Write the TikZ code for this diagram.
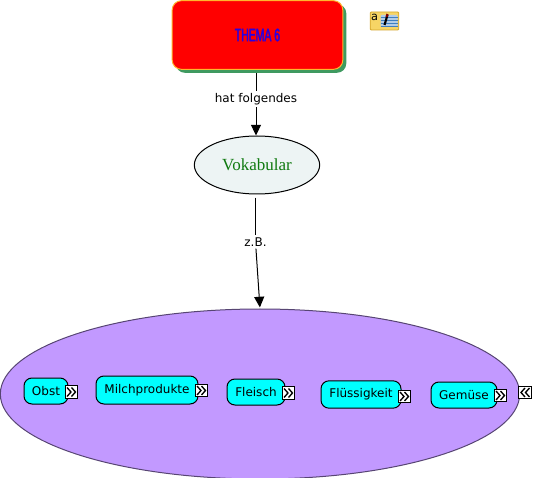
\documentclass[tikz,border=0pt]{standalone}
\usepackage{fontspec}
\setmainfont{DejaVu Sans}
\newfontfamily\serifvoka{Liberation Serif}
\newfontfamily\themafont[FakeStretch=0.58,FakeBold=2]{Liberation Sans}
\usetikzlibrary{arrows.meta,shapes.geometric,shadows}
\definecolor{themared}{HTML}{FF0000}
\definecolor{themaline}{HTML}{FFB52E}
\definecolor{themashadow}{HTML}{3F9A60}
\definecolor{themablue}{HTML}{2A00E0}
\definecolor{vokafill}{HTML}{EDF4F4}
\definecolor{vokagreen}{HTML}{107A10}
\definecolor{bigfill}{HTML}{C299FF}
\definecolor{topicfill}{HTML}{00FFFF}
\definecolor{notefill}{HTML}{F7D565}
\definecolor{noteline}{HTML}{D4A52A}
\definecolor{notelines}{HTML}{3F7FC0}
\tikzset{
	topic/.style={draw=black, line width=0.75pt, fill=topicfill, rounded corners=6pt, inner sep=0pt, font=\fontsize{9}{11}\selectfont},
	expandicon/.style={draw=black, line width=0.6pt, fill=white, minimum size=9.5pt, inner sep=0pt,
		path picture={\draw[line width=1pt] (-4.5,-4.5) -- (-0.5,0) -- (-4.5,4.5) (0,-4.5) -- (4,0) -- (0,4.5);}},
	collapseicon/.style={draw=black, line width=0.6pt, fill=white, minimum size=9.5pt, inner sep=0pt,
		path picture={\draw[line width=1pt] (4.5,-4.5) -- (0.5,0) -- (4.5,4.5) (0,-4.5) -- (-4,0) -- (0,4.5);}},
	link/.style={font=\fontsize{9}{11}\selectfont, inner sep=1.5pt},
	tip/.style={-{Triangle[length=8pt,width=7.5pt]}, line width=0.75pt}
}
\begin{document}
\begin{tikzpicture}
	[x=0.75pt, y=-0.75pt]
	\useasboundingbox (0,0) rectangle (533,478);
	\begin{scope}
		\clip (0,0) rectangle (533,478);
		\node[ellipse, draw=black!55!bigfill, line width=0.75pt, fill=bigfill, minimum width=389.5pt, minimum height=127.5pt, inner sep=0pt] (big) at (260,394) {};
	\end{scope}
	\node[draw=themaline, line width=0.75pt, fill=themared, rounded corners=7pt, minimum width=128pt, minimum height=51.5pt, inner sep=0pt,
		drop shadow={shadow xshift=2.6pt, shadow yshift=-2.6pt, opacity=1, fill=themashadow},
		text=themablue, font=\themafont\fontsize{13.5}{14}\selectfont] (thema) at (257.5,35) {THEMA 6};
	\node[draw=noteline, line width=0.6pt, fill=notefill, rounded corners=0.8pt, minimum width=21.5pt, minimum height=13.5pt, inner sep=0pt,
		path picture={\fill[white!60!notelines] (-4,-6) rectangle (13,6);
			\draw[notelines, line width=0.6pt] (-4,-4) -- (13,-4) (-4,-1) -- (13,-1) (-4,2) -- (13,2) (-4,5) -- (13,5);
			\draw[black, line width=1.6pt] (3,-6) -- (0,4);
			\draw[red!50!black, line width=1.6pt] (3,-7) -- (2,-4);
			\fill[notefill] (14.5,5) -- (14.5,9) -- (10,9) -- cycle;}] (note) at (384.5,21) {};
	\node[inner sep=0pt, font=\fontsize{8.5}{9}\selectfont] (notea) at (374.5,17) {a};
	\node[ellipse, draw=black, line width=0.75pt, fill=vokafill, minimum width=94pt, minimum height=43.5pt, inner sep=0pt,
		text=vokagreen, font=\serifvoka\fontsize{12.75}{14}\selectfont] (voka) at (257,165) {Vokabular};
	\node[link] (l1) at (256,99) {hat folgendes};
	\node[link] (l2) at (255.5,242) {z.B.};
	\draw[line width=0.75pt, shorten <=2.6pt] (thema.south -| l1) -- (l1);
	\draw[tip] (l1) -- (l1 |- voka.north);
	\draw[line width=0.75pt, shorten <=2.4pt] (voka.south -| l2) -- (l2);
	\draw[tip, shorten >=0.8pt] (l2) -- (big.north);
	\node[topic, minimum width=33pt, minimum height=19.5pt] (t1) at (46,391) {Obst};
	\node[topic, minimum width=76.5pt, minimum height=21pt] (t2) at (147,390) {Milchprodukte};
	\node[topic, minimum width=43.5pt, minimum height=19.5pt] (t3) at (256,392) {Fleisch};
	\node[topic, minimum width=60pt, minimum height=20.5pt] (t4) at (361,394.5) {Flüssigkeit};
	\node[topic, minimum width=49.5pt, minimum height=19.5pt] (t5) at (464,395) {Gemüse};
	\node[expandicon] (e1) at (71.5,392) {};
	\node[expandicon] (e2) at (201.5,390.5) {};
	\node[expandicon] (e3) at (288.5,393) {};
	\node[expandicon] (e4) at (404.5,396.5) {};
	\node[expandicon] (e5) at (500.5,395.5) {};
	\node[collapseicon] (c1) at (525,392.5) {};
\end{tikzpicture}
\end{document}
